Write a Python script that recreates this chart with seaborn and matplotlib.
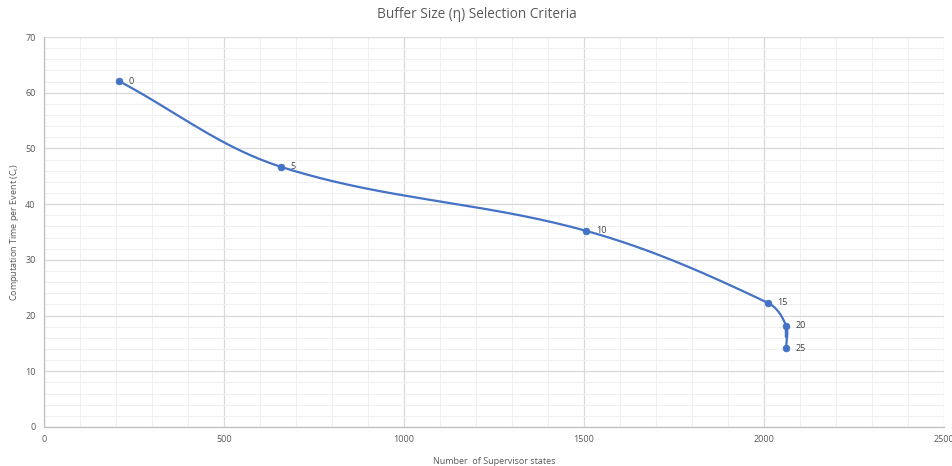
import numpy as np
import pandas as pd
import matplotlib
matplotlib.use("Agg")
import matplotlib.pyplot as plt
from matplotlib.ticker import MultipleLocator
import seaborn as sns

# Buffer sizes and the measured results for each
buffer_sizes = [0, 5, 10, 15, 20, 25]
supervisor_states = [208, 658, 1506, 2010, 2061, 2061]
computation_time = [62.1, 46.7, 35.2, 22.3, 18.2, 14.1]

x_ticks = [0, 500, 1000, 1500, 2000, 2500]
y_ticks = [0, 10, 20, 30, 40, 50, 60, 70]

LINE = "#4472C4"
TEXT = "#595959"

sns.set_theme(style="white")
plt.rcParams["font.family"] = ["Open Sans", "DejaVu Sans"]


def smooth_path(xs, ys, n=60, k=0.35):
    """Smoothed line through the points: cubic Bezier segments whose handles
    follow the neighbour direction and scale with each segment's own length."""
    # work in display-like proportions so both axes shape the curve equally
    sx, sy = 900 / 2500.0, 390 / 70.0
    q = np.column_stack([xs, ys]).astype(float) * [sx, sy]
    ext = np.vstack([q[0], q, q[-1]])
    out = []
    for i in range(1, len(ext) - 2):
        p0, p1, p2, p3 = ext[i - 1], ext[i], ext[i + 1], ext[i + 2]
        seg_len = np.linalg.norm(p2 - p1)
        d1 = p2 - p0
        d1 = d1 / np.linalg.norm(d1)
        d2 = p3 - p1
        d2 = d2 / np.linalg.norm(d2)
        c1 = p1 + d1 * seg_len * k
        c2 = p2 - d2 * seg_len * k
        t = np.linspace(0, 1, n)[:, None]
        seg = ((1 - t) ** 3) * p1 + 3 * ((1 - t) ** 2) * t * c1 + 3 * (1 - t) * t ** 2 * c2 + t ** 3 * p2
        out.append(seg if i == 1 else seg[1:])
    out = np.vstack(out) / [sx, sy]
    return out[:, 0], out[:, 1]


cx, cy = smooth_path(supervisor_states, computation_time)
curve = pd.DataFrame({"states": cx, "time": cy})
points = pd.DataFrame({"states": supervisor_states, "time": computation_time, "eta": buffer_sizes})

fig = plt.figure(figsize=(9.53, 4.66), dpi=100)
ax = fig.add_axes([0.0462, 0.0837, 0.9444, 0.8369])

sns.lineplot(data=curve, x="states", y="time", sort=False, color=LINE, linewidth=1.6, ax=ax, zorder=3)
sns.scatterplot(data=points, x="states", y="time", color=LINE, s=24, edgecolor=LINE, linewidth=0.5, ax=ax, zorder=4)

for _, r in points.iterrows():
    ax.annotate(str(int(r["eta"])), (r["states"], r["time"]), xytext=(7, 0),
                textcoords="offset points", ha="left", va="center",
                fontsize=6.5, color="#404040")

ax.set_xlim(0, 2500)
ax.set_ylim(0, 70)
ax.set_xticks(x_ticks)
ax.set_yticks(y_ticks)
ax.xaxis.set_minor_locator(MultipleLocator(100))
ax.yaxis.set_minor_locator(MultipleLocator(2))
ax.grid(which="major", color="#d9d9d9", linewidth=0.9)
ax.grid(which="minor", color="#f0f0f0", linewidth=0.8)
ax.set_axisbelow(True)

for side in ["top", "right"]:
    ax.spines[side].set_visible(False)
for side in ["left", "bottom"]:
    ax.spines[side].set_color("#bfbfbf")
    ax.spines[side].set_linewidth(0.9)

ax.tick_params(axis="both", which="major", labelsize=6.5, colors="#bfbfbf",
               labelcolor=TEXT, length=4, width=0.8, direction="out", pad=2)
ax.tick_params(axis="both", which="minor", length=0)

ax.set_xlabel("Number  of Supervisor states", fontsize=6.5, color=TEXT)
ax.set_ylabel(r"Computation Time per Event (C$_\mathregular{t}$)", fontsize=6.5, color=TEXT)
ax.xaxis.set_label_coords(0.5, -0.077)
ax.yaxis.set_label_coords(-0.026, 0.5)
fig.suptitle("Buffer Size (η) Selection Criteria", fontsize=9.8, color=TEXT, y=0.985)

fig.savefig("out.png", dpi=100)
